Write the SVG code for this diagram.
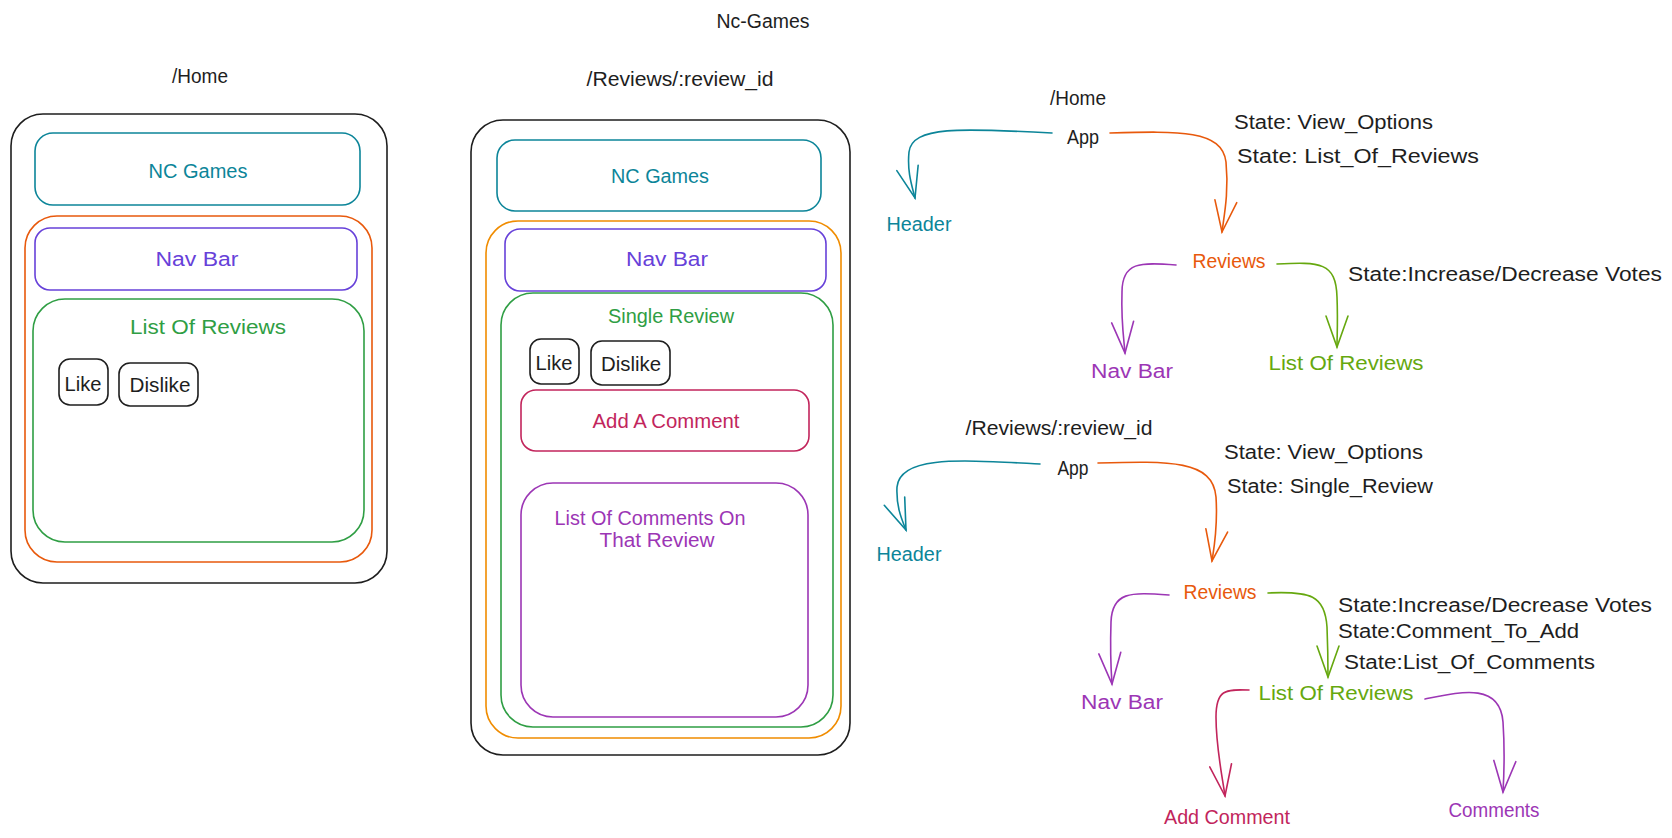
<svg xmlns="http://www.w3.org/2000/svg" width="1672" height="838" viewBox="0 0 1672 838">
<style>
text{font-family:"Liberation Sans",Arial,sans-serif;font-size:20px;dominant-baseline:central;fill:#1e1e1e}
.c{text-anchor:middle}
.box{fill:none;stroke-width:1.6;stroke-linejoin:round}
.k{stroke:#1e1e1e}.teal{stroke:#0c8599}.red{stroke:#e8590c}.vio{stroke:#6741d9}.grn{stroke:#2f9e44}
.org{stroke:#f08c00}.crim{stroke:#c2255c}.pur{stroke:#9c36b5}.lime{stroke:#66a80f}
.tteal{fill:#0c8599}.tred{fill:#e8590c}.tvio{fill:#6741d9}.tgrn{fill:#2f9e44}.tcrim{fill:#c2255c}.tpur{fill:#9c36b5}.tlime{fill:#66a80f}
.conn path{fill:none;stroke-width:1.6;stroke-linecap:round}
</style>
<defs>
<marker id="ah-teal" markerUnits="userSpaceOnUse" orient="auto" overflow="visible" markerWidth="1" markerHeight="1"><path d="M-31,-11 L0,0 L-31,11" fill="none" stroke="#0c8599" stroke-width="1.6" stroke-linecap="round"/></marker>
<marker id="ah-red" markerUnits="userSpaceOnUse" orient="auto" overflow="visible" markerWidth="1" markerHeight="1"><path d="M-31,-11 L0,0 L-31,11" fill="none" stroke="#e8590c" stroke-width="1.6" stroke-linecap="round"/></marker>
<marker id="ah-pur" markerUnits="userSpaceOnUse" orient="auto" overflow="visible" markerWidth="1" markerHeight="1"><path d="M-31,-11 L0,0 L-31,11" fill="none" stroke="#9c36b5" stroke-width="1.6" stroke-linecap="round"/></marker>
<marker id="ah-lime" markerUnits="userSpaceOnUse" orient="auto" overflow="visible" markerWidth="1" markerHeight="1"><path d="M-31,-11 L0,0 L-31,11" fill="none" stroke="#66a80f" stroke-width="1.6" stroke-linecap="round"/></marker>
<marker id="ah-crim" markerUnits="userSpaceOnUse" orient="auto" overflow="visible" markerWidth="1" markerHeight="1"><path d="M-31,-11 L0,0 L-31,11" fill="none" stroke="#c2255c" stroke-width="1.6" stroke-linecap="round"/></marker>
</defs>
<rect width="1672" height="838" fill="#ffffff"/>

<g id="title"><text class="c" x="763" y="21" textLength="93" lengthAdjust="spacingAndGlyphs">Nc-Games</text></g>

<!-- Left wireframe: /Home -->
<g id="home-wireframe">
<text class="c" x="200" y="76" textLength="56" lengthAdjust="spacingAndGlyphs">/Home</text>
<rect class="box k" x="11" y="114" width="376" height="469" rx="32"/>
</g>
<g id="home-header"><rect class="box teal" x="35" y="133" width="325" height="72" rx="18"/><text class="c tteal" x="198" y="171" textLength="99" lengthAdjust="spacingAndGlyphs">NC Games</text></g>
<g id="home-reviews"><rect class="box red" x="25" y="216" width="347" height="346" rx="32"/></g>
<g id="home-navbar"><rect class="box vio" x="35" y="228" width="322" height="62" rx="15"/><text class="c tvio" x="197" y="259" textLength="83" lengthAdjust="spacingAndGlyphs">Nav Bar</text></g>
<g id="home-list"><rect class="box grn" x="33" y="299" width="331" height="243" rx="32"/><text class="c tgrn" x="208" y="327" textLength="156" lengthAdjust="spacingAndGlyphs">List Of Reviews</text></g>
<g id="home-like"><rect class="box k" x="59" y="359" width="49" height="46" rx="11"/><text class="c" x="83" y="384" textLength="37" lengthAdjust="spacingAndGlyphs">Like</text></g>
<g id="home-dislike"><rect class="box k" x="119" y="363" width="79" height="43" rx="11"/><text class="c" x="160" y="385" textLength="61" lengthAdjust="spacingAndGlyphs">Dislike</text></g>

<!-- Middle wireframe: /Reviews/:review_id -->
<g id="review-wireframe">
<text class="c" x="680" y="79" textLength="187" lengthAdjust="spacingAndGlyphs">/Reviews/:review_id</text>
<rect class="box k" x="471" y="120" width="379" height="635" rx="32"/>
</g>
<g id="review-header"><rect class="box teal" x="497" y="140" width="324" height="71" rx="18"/><text class="c tteal" x="660" y="176" textLength="98" lengthAdjust="spacingAndGlyphs">NC Games</text></g>
<g id="review-reviews"><rect class="box org" x="486" y="221" width="355" height="517" rx="32"/></g>
<g id="review-navbar"><rect class="box vio" x="505" y="229" width="321" height="62" rx="15"/><text class="c tvio" x="667" y="259" textLength="82" lengthAdjust="spacingAndGlyphs">Nav Bar</text></g>
<g id="review-single"><rect class="box grn" x="501" y="293" width="332" height="434" rx="32"/><text class="c tgrn" x="671" y="316" textLength="126" lengthAdjust="spacingAndGlyphs">Single Review</text></g>
<g id="review-like"><rect class="box k" x="530" y="339" width="49" height="45" rx="11"/><text class="c" x="554" y="363" textLength="37" lengthAdjust="spacingAndGlyphs">Like</text></g>
<g id="review-dislike"><rect class="box k" x="591" y="341" width="79" height="44" rx="11"/><text class="c" x="631" y="364" textLength="60" lengthAdjust="spacingAndGlyphs">Dislike</text></g>
<g id="review-addcomment"><rect class="box crim" x="521" y="390" width="288" height="61" rx="15"/><text class="c tcrim" x="666" y="421" textLength="147" lengthAdjust="spacingAndGlyphs">Add A Comment</text></g>
<g id="review-comments"><rect class="box pur" x="521" y="483" width="287" height="234" rx="32"/>
<text class="c tpur" x="650" y="518" textLength="191" lengthAdjust="spacingAndGlyphs">List Of Comments On</text>
<text class="c tpur" x="657" y="540" textLength="115" lengthAdjust="spacingAndGlyphs">That Review</text></g>

<!-- Top tree: /Home -->
<g id="tree1-title"><text class="c" x="1078" y="98" textLength="56" lengthAdjust="spacingAndGlyphs">/Home</text></g>
<g id="tree1-app"><text class="c" x="1083" y="137" textLength="32" lengthAdjust="spacingAndGlyphs">App</text>
<text x="1234" y="122" textLength="199" lengthAdjust="spacingAndGlyphs">State: View_Options</text>
<text x="1237" y="156" textLength="242" lengthAdjust="spacingAndGlyphs">State: List_Of_Reviews</text></g>
<g id="tree1-header"><text class="c tteal" x="919" y="224" textLength="65" lengthAdjust="spacingAndGlyphs">Header</text></g>
<g id="tree1-reviews"><text class="c tred" x="1229" y="261" textLength="73" lengthAdjust="spacingAndGlyphs">Reviews</text>
<text x="1348" y="274" textLength="314" lengthAdjust="spacingAndGlyphs">State:Increase/Decrease Votes</text></g>
<g id="tree1-navbar"><text class="c tpur" x="1132" y="371" textLength="82" lengthAdjust="spacingAndGlyphs">Nav Bar</text></g>
<g id="tree1-list"><text class="c tlime" x="1346" y="363" textLength="155" lengthAdjust="spacingAndGlyphs">List Of Reviews</text></g>

<!-- Bottom tree: /Reviews/:review_id -->
<g id="tree2-title"><text class="c" x="1059" y="428" textLength="187" lengthAdjust="spacingAndGlyphs">/Reviews/:review_id</text></g>
<g id="tree2-app"><text class="c" x="1073" y="468" textLength="31" lengthAdjust="spacingAndGlyphs">App</text>
<text x="1224" y="452" textLength="199" lengthAdjust="spacingAndGlyphs">State: View_Options</text>
<text x="1227" y="486" textLength="206" lengthAdjust="spacingAndGlyphs">State: Single_Review</text></g>
<g id="tree2-header"><text class="c tteal" x="909" y="554" textLength="65" lengthAdjust="spacingAndGlyphs">Header</text></g>
<g id="tree2-reviews"><text class="c tred" x="1220" y="592" textLength="73" lengthAdjust="spacingAndGlyphs">Reviews</text>
<text x="1338" y="605" textLength="314" lengthAdjust="spacingAndGlyphs">State:Increase/Decrease Votes</text>
<text x="1338" y="631" textLength="241" lengthAdjust="spacingAndGlyphs">State:Comment_To_Add</text>
<text x="1344" y="662" textLength="251" lengthAdjust="spacingAndGlyphs">State:List_Of_Comments</text></g>
<g id="tree2-navbar"><text class="c tpur" x="1122" y="702" textLength="82" lengthAdjust="spacingAndGlyphs">Nav Bar</text></g>
<g id="tree2-list"><text class="c tlime" x="1336" y="693" textLength="155" lengthAdjust="spacingAndGlyphs">List Of Reviews</text></g>
<g id="tree2-addcomment"><text class="c tcrim" x="1227" y="817" textLength="126" lengthAdjust="spacingAndGlyphs">Add Comment</text></g>
<g id="tree2-comments"><text class="c tpur" x="1494" y="810" textLength="91" lengthAdjust="spacingAndGlyphs">Comments</text></g>

<g id="connectors" class="conn">
<path class="teal" marker-end="url(#ah-teal)" d="M1052,133 C960,128 912,126 909,152 C907,172 912,186 915,198"/>
<path class="red" marker-end="url(#ah-red)" d="M1110,133 C1180,131 1222,130 1226,162 C1229,192 1224,216 1222,232"/>
<path class="pur" marker-end="url(#ah-pur)" d="M1176,265 C1140,262 1122,262 1122,292 C1121,322 1124,340 1125,353"/>
<path class="lime" marker-end="url(#ah-lime)" d="M1277,264 C1320,262 1336,262 1337,297 C1338,322 1337,336 1337,347"/>
<path class="teal" marker-end="url(#ah-teal)" d="M1040,464 C960,460 900,455 897,487 C896,507 902,520 906,530"/>
<path class="red" marker-end="url(#ah-red)" d="M1098,463 C1170,461 1213,460 1216,497 C1218,527 1214,548 1212,561"/>
<path class="pur" marker-end="url(#ah-pur)" d="M1169,595 C1130,592 1112,592 1111,622 C1110,652 1111,670 1112,684"/>
<path class="lime" marker-end="url(#ah-lime)" d="M1268,593 C1310,591 1325,595 1327,627 C1328,652 1328,665 1328,677"/>
<path class="crim" marker-end="url(#ah-crim)" d="M1249,690 C1225,689 1216,690 1216,717 C1216,747 1222,775 1225,796"/>
<path class="pur" marker-end="url(#ah-pur)" d="M1425,699 C1460,692 1500,682 1503,722 C1505,752 1504,775 1503,792"/>
</g>
</svg>
